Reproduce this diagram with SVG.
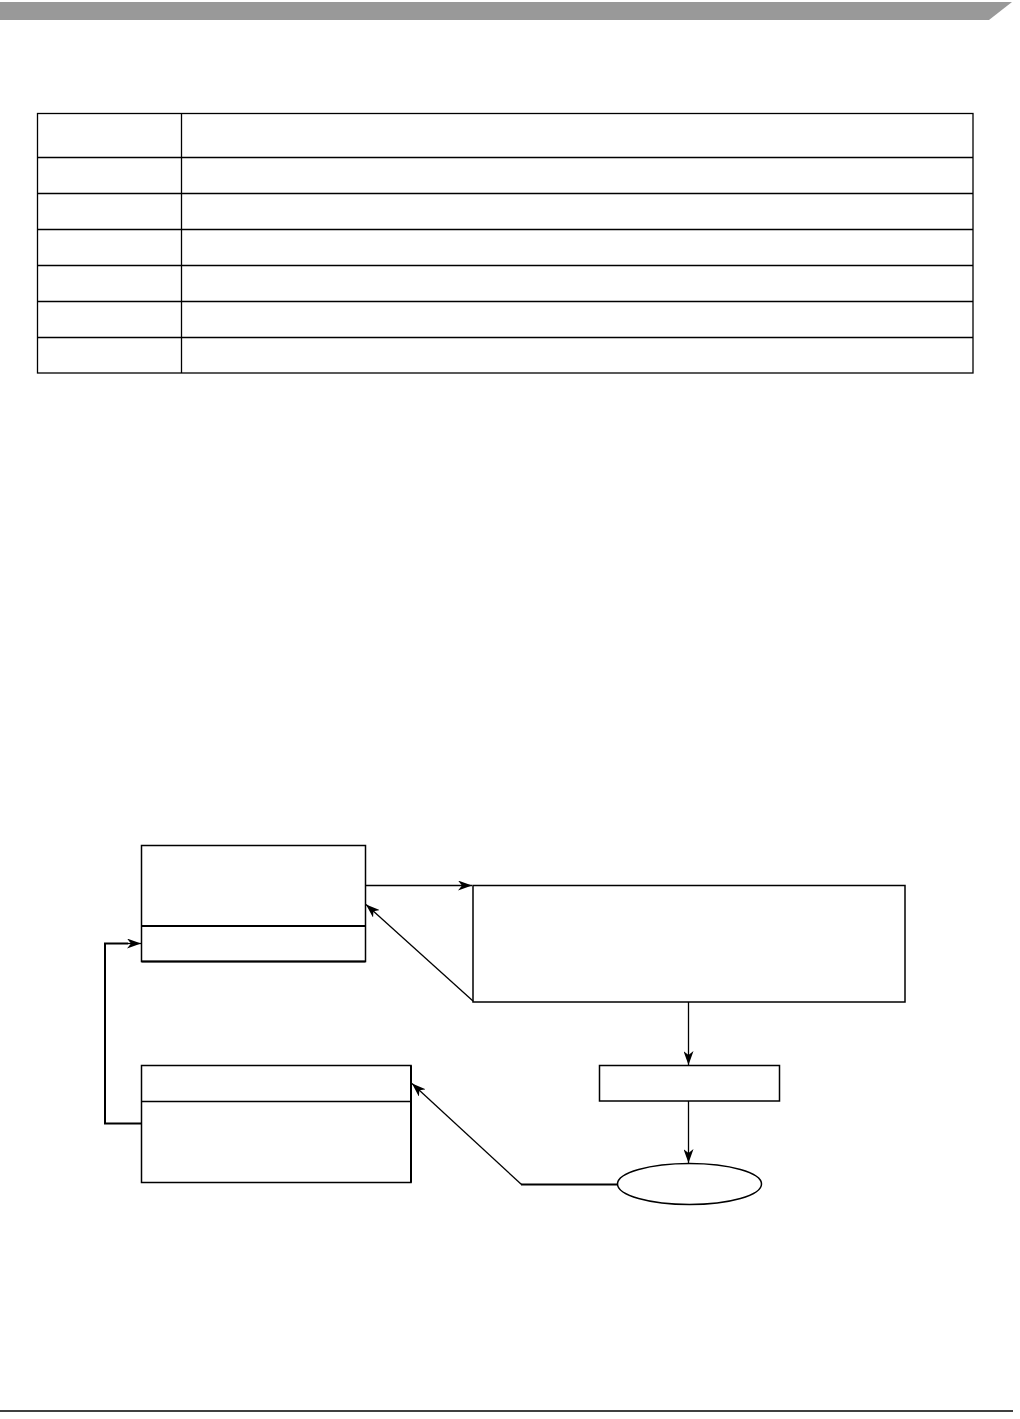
<svg xmlns="http://www.w3.org/2000/svg" width="1020" height="1419" viewBox="0 0 1020 1419">
<style>
.ln{fill:none;stroke:#000;stroke-width:1.3}
.th{fill:none;stroke:#000;stroke-width:2}
.box{fill:#fff;stroke:#000;stroke-width:1.5}
</style>
<defs>
<marker id="arr" markerUnits="userSpaceOnUse" markerWidth="15" markerHeight="10" refX="14" refY="5" orient="auto">
<path d="M0,0 L14,5 L0,10 L4,5 z" fill="#000"/>
</marker>
</defs>
<rect width="1020" height="1419" fill="#fff"/>
<g id="banner"><polygon points="0,2 1012,2 989,20 0,20" fill="#999"/></g>
<g id="table">
<rect x="37.5" y="113.5" width="935.5" height="259.5" fill="none" stroke="#000" stroke-width="1.3"/>
<line class="ln" x1="181.5" y1="113.5" x2="181.5" y2="373"/>
<line class="ln" x1="37.5" y1="157.5" x2="973" y2="157.5"/>
<line class="ln" x1="37.5" y1="193.5" x2="973" y2="193.5"/>
<line class="ln" x1="37.5" y1="229.5" x2="973" y2="229.5"/>
<line class="ln" x1="37.5" y1="265.5" x2="973" y2="265.5"/>
<line class="ln" x1="37.5" y1="301.5" x2="973" y2="301.5"/>
<line class="ln" x1="37.5" y1="337.5" x2="973" y2="337.5"/>
</g>
<g id="node1">
<rect class="box" x="141.5" y="845.5" width="224" height="116"/>
<line class="th" x1="141.5" y1="926" x2="365.5" y2="926"/>
<line class="th" x1="141.5" y1="961.5" x2="365.5" y2="961.5"/>
</g>
<g id="node2"><rect class="box" x="473" y="885.5" width="432" height="116.5"/></g>
<g id="node3"><rect class="box" x="599.5" y="1065.5" width="180" height="35.5"/></g>
<g id="node4">
<rect class="box" x="141.5" y="1065.5" width="269.5" height="117"/>
<line class="ln" x1="141.5" y1="1101.5" x2="411" y2="1101.5"/>
<line class="th" x1="411" y1="1065.5" x2="411" y2="1182.5"/>
</g>
<g id="node5"><ellipse cx="689.5" cy="1184" rx="72" ry="20.5" fill="#fff" stroke="#000" stroke-width="1.5"/></g>
<g id="connectors">
<line class="ln" x1="365.5" y1="885.5" x2="472" y2="885.5" marker-end="url(#arr)"/>
<line class="ln" x1="473" y1="1001" x2="366" y2="904.5" marker-end="url(#arr)"/>
<line class="ln" x1="688.5" y1="1002" x2="688.5" y2="1065" marker-end="url(#arr)"/>
<line class="ln" x1="688.5" y1="1101" x2="688.5" y2="1163" marker-end="url(#arr)"/>
<line class="th" x1="617.5" y1="1184.5" x2="521" y2="1184.5"/>
<line class="ln" x1="521.5" y1="1184.5" x2="412" y2="1083.5" marker-end="url(#arr)"/>
<polyline class="th" points="141.5,1123.5 105,1123.5 105,943.5 128,943.5"/>
<line class="ln" x1="128" y1="943.5" x2="141" y2="943.5" marker-end="url(#arr)"/>
</g>
<g id="footer"><line x1="0" y1="1411" x2="1013" y2="1411" stroke="#000" stroke-width="1.5"/></g>
</svg>
